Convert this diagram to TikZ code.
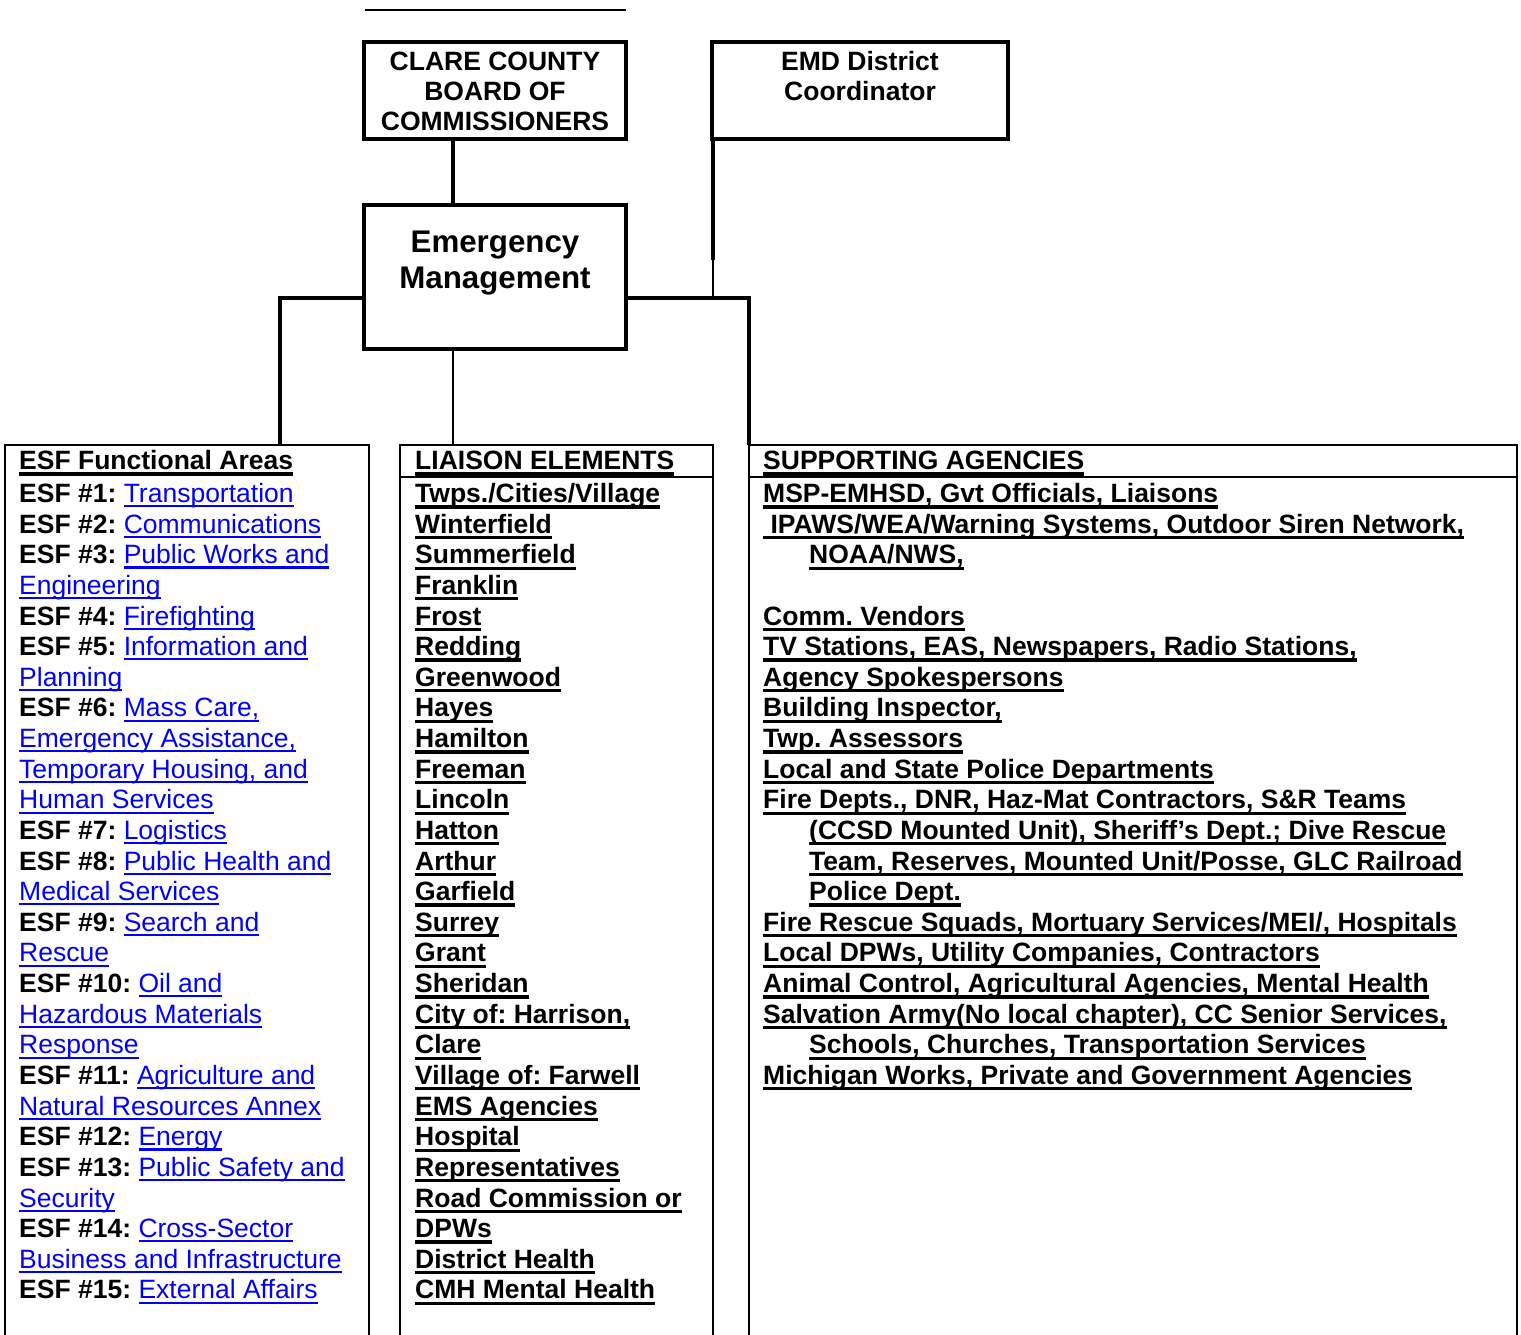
\documentclass[tikz,border=0pt]{standalone}
\usepackage{fontspec}
\setmainfont{Liberation Sans}
\frenchspacing
\definecolor{lnk}{RGB}{0,0,255}
\newcommand\ulb[1]{\leavevmode\setbox0\hbox{#1}\rlap{\rule[-6pt]{\wd0}{3.2pt}}\box0}
\newcommand\lk[1]{\leavevmode\setbox0\hbox{\color{lnk}\mdseries #1}\rlap{\color{lnk}\rule[-4.8pt]{\wd0}{2.1pt}}\box0}
\tikzset{
  thk/.style={line width=3.8pt},
  thn/.style={line width=2pt},
  txt/.style={anchor=base west, inner sep=0pt, font=\frenchspacing\bfseries\fontsize{26.5}{30.6}\selectfont},
  ttl/.style={align=center, inner sep=0pt, font=\bfseries\fontsize{26.5}{30}\selectfont},
  big/.style={align=center, inner sep=0pt, font=\bfseries\fontsize{31.3}{36}\selectfont},
}
\begin{document}
\begin{tikzpicture}[x=1pt,y=-1pt]
\useasboundingbox (0,0) rectangle (1521,1335);
% top rule
\coordinate (tl) at (365,10);
\coordinate (tr) at (626,10);
\draw[thn] (tl) -- (tr);
% boxes
\draw[thk] (364,42) rectangle (626,139);
\node[ttl] (clare) at (495,91) {CLARE COUNTY\\BOARD OF\\COMMISSIONERS};
\draw[thk] (712,42) rectangle (1008,139);
\node[ttl] (emd) at (860,76) {EMD District\\Coordinator};
\draw[thk] (364,205) rectangle (626,349);
\node[big] (em) at (495,263) {Emergency\\Management};
\coordinate (clareB) at (453,139);
\coordinate (emT) at (453,205);
\coordinate (emB) at (453,349);
\coordinate (emL) at (364,298);
\coordinate (emR) at (626,298);
\coordinate (emdB) at (713,139);
\coordinate (emdM) at (713,260);
\coordinate (emdJ) at (713,298);
\coordinate (esfT) at (280,445);
\coordinate (liaT) at (453,445);
\coordinate (supT) at (749,445);
% connectors
\draw[thk] (clareB) -- (emT);
\draw[thk] (emL) -| (esfT);
\draw[thk] (emR) -| (supT);
\draw[thk] (emdB) -- (emdM);
\draw[thn] (emdM) -- (emdJ);
\draw[thn] (emB) -- (liaT);
% lower boxes
\draw[thn] (5,1340) -- (5,445) -- (369,445) -- (369,1340);
\draw[thn] (400,1340) -- (400,445) -- (713,445) -- (713,1340);
\draw[thn] (400,477) -- (713,477);
\draw[thn] (749,1340) -- (749,445) -- (1517,445) -- (1517,1340);
\draw[thn] (749,477) -- (1517,477);
% headers
\node[txt] (esfh) at (19,469.5) {\ulb{ESF Functional Areas}};
\node[txt] (liah) at (415,469.5) {\ulb{LIAISON ELEMENTS}};
\node[txt] (suph) at (763,469.5) {\ulb{SUPPORTING AGENCIES}};
% ESF column
\foreach \t [count=\i from 0] in {
 {ESF \#1: \lk{Transportation}},
 {ESF \#2: \lk{Communications}},
 {ESF \#3: \lk{Public Works and}},
 {\lk{Engineering}},
 {ESF \#4: \lk{Firefighting}},
 {ESF \#5: \lk{Information and}},
 {\lk{Planning}},
 {ESF \#6: \lk{Mass Care,}},
 {\lk{Emergency Assistance,}},
 {\lk{Temporary Housing, and}},
 {\lk{Human Services}},
 {ESF \#7: \lk{Logistics}},
 {ESF \#8: \lk{Public Health and}},
 {\lk{Medical Services}},
 {ESF \#9: \lk{Search and}},
 {\lk{Rescue}},
 {ESF \#10: \lk{Oil and}},
 {\lk{Hazardous Materials}},
 {\lk{Response}},
 {ESF \#11: \lk{Agriculture and}},
 {\lk{Natural Resources Annex}},
 {ESF \#12: \lk{Energy}},
 {ESF \#13: \lk{Public Safety and}},
 {\lk{Security}},
 {ESF \#14: \lk{Cross-Sector}},
 {\lk{Business and Infrastructure}},
 {ESF \#15: \lk{External Affairs}}}
 \node[txt] (esf\i) at (19,{502.5+30.63*\i}) {\t};
% Liaison column
\foreach \t [count=\i from 0] in {
 {Twps./Cities/Village},{Winterfield},{Summerfield},{Franklin},{Frost},
 {Redding},{Greenwood},{Hayes},{Hamilton},{Freeman},{Lincoln},{Hatton},
 {Arthur},{Garfield},{Surrey},{Grant},{Sheridan},{City of: Harrison,},
 {Clare},{Village of: Farwell},{EMS Agencies},{Hospital},{Representatives},
 {Road Commission or},{DPWs},{District Health},{CMH Mental Health}}
 \node[txt] (lia\i) at (415,{502.5+30.63*\i}) {\ulb{\t}};
% Supporting column
\foreach \x/\r/\t in {
 763/0/{MSP-EMHSD, Gvt Officials, Liaisons},
 763/1/{\ IPAWS/WEA/Warning Systems, Outdoor Siren Network,},
 809/2/{NOAA/NWS,},
 763/4/{Comm. Vendors},
 763/5/{TV Stations, EAS, Newspapers, Radio Stations,},
 763/6/{Agency Spokespersons},
 763/7/{Building Inspector,},
 763/8/{Twp. Assessors},
 763/9/{Local and State Police Departments},
 763/10/{Fire Depts., DNR, Haz-Mat Contractors, S\&R Teams},
 809/11/{(CCSD Mounted Unit), Sheriff’s Dept.; Dive Rescue},
 809/12/{Team, Reserves, Mounted Unit/Posse, GLC Railroad},
 809/13/{Police Dept.},
 763/14/{Fire Rescue Squads, Mortuary Services/MEI/, Hospitals},
 763/15/{Local DPWs, Utility Companies, Contractors},
 763/16/{Animal Control, Agricultural Agencies, Mental Health},
 763/17/{Salvation Army(No local chapter), CC Senior Services,},
 809/18/{Schools, Churches, Transportation Services},
 763/19/{Michigan Works, Private and Government Agencies}}
 \node[txt] (sup\r) at (\x,{502.5+30.63*\r}) {\ulb{\t}};
\end{tikzpicture}
\end{document}
